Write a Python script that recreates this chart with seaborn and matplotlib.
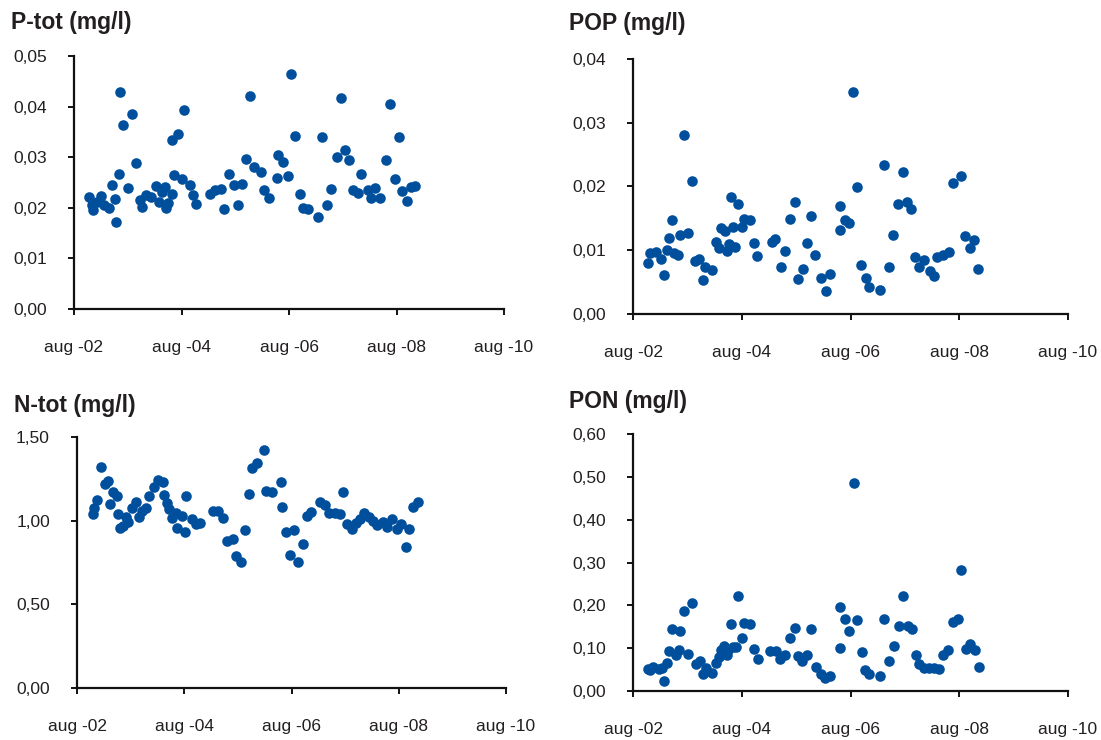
import pandas as pd
import matplotlib
matplotlib.use('Agg')
import matplotlib.pyplot as plt
import seaborn as sns

# ================= data (sample time as decimal year, value in mg/l) =================
ptot_year = [2002.86, 2002.91, 2002.94, 2003.01, 2003.09, 2003.14, 2003.24, 2003.29, 2003.34, 2003.37,
             2003.41, 2003.44, 2003.50, 2003.58, 2003.66, 2003.73, 2003.81, 2003.85, 2003.92, 2004.01,
             2004.10, 2004.16, 2004.21, 2004.27, 2004.29, 2004.33, 2004.40, 2004.41, 2004.45, 2004.51,
             2004.59, 2004.62, 2004.73, 2004.79, 2004.85, 2005.11, 2005.21, 2005.31, 2005.37, 2005.47,
             2005.55, 2005.63, 2005.71, 2005.78, 2005.85, 2005.93, 2006.06, 2006.12, 2006.20, 2006.36,
             2006.38, 2006.47, 2006.56, 2006.62, 2006.70, 2006.78, 2006.85, 2006.94, 2007.12, 2007.20,
             2007.28, 2007.37, 2007.47, 2007.55, 2007.62, 2007.70, 2007.77, 2007.86, 2007.93, 2008.05,
             2008.11, 2008.19, 2008.28, 2008.38, 2008.46, 2008.55, 2008.62, 2008.69, 2008.77, 2008.85,
             2008.93]
ptot_val = [0.0221, 0.0206, 0.0195, 0.0212, 0.0223, 0.0205, 0.0199, 0.0246, 0.0217, 0.0171,
            0.0267, 0.0428, 0.0364, 0.0240, 0.0385, 0.0289, 0.0216, 0.0202, 0.0225, 0.0222,
            0.0243, 0.0212, 0.0232, 0.0241, 0.0199, 0.0210, 0.0228, 0.0335, 0.0265, 0.0346,
            0.0256, 0.0394, 0.0246, 0.0225, 0.0208, 0.0228, 0.0235, 0.0238, 0.0198, 0.0266,
            0.0245, 0.0206, 0.0247, 0.0296, 0.0421, 0.0280, 0.0270, 0.0235, 0.0219, 0.0258,
            0.0305, 0.0291, 0.0263, 0.0464, 0.0342, 0.0228, 0.0199, 0.0197, 0.0181, 0.0340,
            0.0206, 0.0237, 0.0300, 0.0418, 0.0314, 0.0294, 0.0235, 0.0230, 0.0267, 0.0235,
            0.0219, 0.0240, 0.0220, 0.0294, 0.0405, 0.0257, 0.0339, 0.0233, 0.0214, 0.0241,
            0.0243]

pop_year = [2002.86, 2002.89, 2003.01, 2003.09, 2003.15, 2003.20, 2003.24, 2003.29, 2003.33, 2003.41,
            2003.45, 2003.52, 2003.60, 2003.67, 2003.72, 2003.80, 2003.86, 2003.91, 2004.04, 2004.10,
            2004.17, 2004.20, 2004.27, 2004.30, 2004.34, 2004.41, 2004.38, 2004.45, 2004.51, 2004.58,
            2004.62, 2004.73, 2004.80, 2004.86, 2005.13, 2005.19, 2005.30, 2005.38, 2005.46, 2005.55,
            2005.62, 2005.70, 2005.78, 2005.85, 2005.93, 2006.04, 2006.13, 2006.21, 2006.38, 2006.39,
            2006.47, 2006.55, 2006.62, 2006.70, 2006.78, 2006.86, 2006.92, 2007.13, 2007.20, 2007.28,
            2007.37, 2007.46, 2007.54, 2007.62, 2007.70, 2007.77, 2007.85, 2007.94, 2008.04, 2008.12,
            2008.18, 2008.29, 2008.39, 2008.47, 2008.62, 2008.69, 2008.77, 2008.86, 2008.93]
pop_val = [0.0080, 0.0095, 0.0097, 0.0087, 0.0061, 0.0101, 0.0119, 0.0148, 0.0096, 0.0092,
           0.0124, 0.0281, 0.0127, 0.0208, 0.0083, 0.0087, 0.0054, 0.0074, 0.0069, 0.0113,
           0.0104, 0.0135, 0.0130, 0.0099, 0.0110, 0.0137, 0.0184, 0.0105, 0.0172, 0.0137,
           0.0149, 0.0147, 0.0112, 0.0091, 0.0113, 0.0117, 0.0073, 0.0099, 0.0149, 0.0176,
           0.0055, 0.0070, 0.0112, 0.0154, 0.0093, 0.0057, 0.0036, 0.0063, 0.0132, 0.0170,
           0.0148, 0.0142, 0.0348, 0.0199, 0.0077, 0.0056, 0.0043, 0.0037, 0.0234, 0.0074,
           0.0124, 0.0172, 0.0223, 0.0176, 0.0165, 0.0090, 0.0074, 0.0084, 0.0067, 0.0059,
           0.0090, 0.0093, 0.0098, 0.0206, 0.0216, 0.0123, 0.0104, 0.0116, 0.0071]

ntot_year = [2002.87, 2002.90, 2002.95, 2003.02, 2003.10, 2003.16, 2003.20, 2003.25, 2003.32, 2003.35,
             2003.38, 2003.44, 2003.49, 2003.53, 2003.60, 2003.68, 2003.73, 2003.80, 2003.87, 2003.92,
             2004.02, 2004.09, 2004.19, 2004.20, 2004.26, 2004.30, 2004.36, 2004.42, 2004.45, 2004.53,
             2004.60, 2004.62, 2004.73, 2004.80, 2004.87, 2005.12, 2005.21, 2005.30, 2005.38, 2005.48,
             2005.55, 2005.63, 2005.71, 2005.78, 2005.85, 2005.93, 2006.06, 2006.11, 2006.21, 2006.38,
             2006.40, 2006.47, 2006.63, 2006.55, 2006.71, 2006.79, 2006.86, 2006.94, 2007.11, 2007.20,
             2007.28, 2007.39, 2007.48, 2007.54, 2007.61, 2007.70, 2007.78, 2007.86, 2007.93, 2008.03,
             2008.10, 2008.18, 2008.28, 2008.37, 2008.46, 2008.54, 2008.63, 2008.71, 2008.78, 2008.85,
             2008.94]
ntot_val = [1.039, 1.074, 1.124, 1.320, 1.220, 1.240, 1.100, 1.174, 1.148, 1.041,
            0.955, 0.969, 1.025, 0.995, 1.074, 1.114, 1.025, 1.061, 1.074, 1.148,
            1.204, 1.244, 1.230, 1.154, 1.108, 1.068, 1.019, 1.049, 0.959, 1.029,
            0.935, 1.150, 1.013, 0.981, 0.989, 1.061, 1.059, 1.019, 0.881, 0.889,
            0.789, 0.755, 0.945, 1.160, 1.318, 1.348, 1.420, 1.180, 1.170, 1.230,
            1.080, 0.931, 0.945, 0.795, 0.755, 0.859, 1.031, 1.055, 1.114, 1.094,
            1.049, 1.049, 1.039, 1.170, 0.979, 0.951, 0.985, 1.011, 1.045, 1.025,
            1.001, 0.975, 0.991, 0.961, 1.013, 0.951, 0.981, 0.845, 0.949, 1.080,
            1.114]

pon_year = [2002.86, 2002.90, 2002.95, 2003.06, 2003.15, 2003.12, 2003.21, 2003.24, 2003.29, 2003.38,
            2003.42, 2003.45, 2003.51, 2003.60, 2003.67, 2003.73, 2003.81, 2003.86, 2003.93, 2004.04,
            2004.10, 2004.16, 2004.20, 2004.25, 2004.30, 2004.33, 2004.38, 2004.42, 2004.47, 2004.52,
            2004.59, 2004.63, 2004.74, 2004.80, 2004.87, 2005.10, 2005.20, 2005.29, 2005.38, 2005.47,
            2005.55, 2005.61, 2005.69, 2005.78, 2005.86, 2005.94, 2006.04, 2006.12, 2006.21, 2006.38,
            2006.39, 2006.48, 2006.55, 2006.64, 2006.70, 2006.79, 2006.85, 2006.93, 2007.13, 2007.20,
            2007.28, 2007.38, 2007.47, 2007.55, 2007.63, 2007.71, 2007.79, 2007.85, 2007.94, 2008.03,
            2008.12, 2008.20, 2008.28, 2008.38, 2008.47, 2008.56, 2008.62, 2008.70, 2008.78, 2008.87,
            2008.94]
pon_val = [0.052, 0.050, 0.056, 0.051, 0.024, 0.054, 0.065, 0.094, 0.146, 0.085,
           0.095, 0.140, 0.188, 0.086, 0.205, 0.063, 0.071, 0.040, 0.054, 0.042,
           0.065, 0.079, 0.096, 0.106, 0.085, 0.096, 0.157, 0.103, 0.104, 0.222,
           0.124, 0.159, 0.157, 0.098, 0.075, 0.094, 0.094, 0.075, 0.085, 0.125,
           0.147, 0.081, 0.069, 0.085, 0.145, 0.056, 0.040, 0.030, 0.034, 0.100,
           0.197, 0.169, 0.141, 0.486, 0.166, 0.092, 0.050, 0.040, 0.034, 0.169,
           0.071, 0.106, 0.151, 0.221, 0.151, 0.145, 0.085, 0.063, 0.054, 0.054,
           0.054, 0.051, 0.085, 0.096, 0.162, 0.169, 0.283, 0.098, 0.110, 0.095,
           0.055]

titles = ['P-tot (mg/l)', 'POP (mg/l)', 'N-tot (mg/l)', 'PON (mg/l)']
xtick_dates = ['2002-08-01', '2004-08-01', '2006-08-01', '2008-08-01', '2010-08-01']
xtick_labels = ['aug -02', 'aug -04', 'aug -06', 'aug -08', 'aug -10']
ytick_ptot = [0.00, 0.01, 0.02, 0.03, 0.04, 0.05]
ytick_pop = [0.00, 0.01, 0.02, 0.03, 0.04]
ytick_ntot = [0.00, 0.50, 1.00, 1.50]
ytick_pon = [0.00, 0.10, 0.20, 0.30, 0.40, 0.50, 0.60]

DOT = '#004f9c'
TXT = '#231f20'


def to_dates(years):
    out = []
    for y in years:
        yr = int(y)
        start = pd.Timestamp(yr, 1, 1)
        out.append(start + (y - yr) * (pd.Timestamp(yr + 1, 1, 1) - start))
    return out


sns.set_style('ticks')
plt.rcParams['font.family'] = ['Liberation Sans', 'DejaVu Sans']

fig = plt.figure(figsize=(11.01, 7.40), dpi=100)

panels = [
    (ptot_year, ptot_val, ytick_ptot, [0.0672, 0.5824, 0.3906, 0.3419], (11, 29)),
    (pop_year, pop_val, ytick_pop, [0.5750, 0.5757, 0.3950, 0.3446], (569, 30)),
    (ntot_year, ntot_val, ytick_ntot, [0.0700, 0.0703, 0.3896, 0.3390], (14, 412)),
    (pon_year, pon_val, ytick_pon, [0.5750, 0.0662, 0.3950, 0.3470], (569, 408)),
]

for (yrs, vals, yticks, rect, tpos), title in zip(panels, titles):
    ax = fig.add_axes(rect)
    df = pd.DataFrame({'date': to_dates(yrs), 'value': vals})
    sns.scatterplot(data=df, x='date', y='value', ax=ax, color=DOT, s=58,
                    linewidth=0, legend=False, clip_on=False, zorder=3)
    xt = pd.to_datetime(xtick_dates)
    ax.set_xlim(xt[0], xt[-1])
    ax.set_xticks(xt)
    ax.set_xticklabels(xtick_labels)
    ax.set_ylim(yticks[0], yticks[-1])
    ax.set_yticks(yticks)
    ax.set_yticklabels([f'{v:.2f}'.replace('.', ',') for v in yticks])
    ax.set_xlabel('')
    ax.set_ylabel('')
    sns.despine(ax=ax)
    for side in ['left', 'bottom']:
        ax.spines[side].set_linewidth(1.6)
        ax.spines[side].set_color('#111111')
    ax.tick_params(axis='both', direction='out', length=4.5, width=1.4, color='#111111',
                   labelsize=12.5, labelcolor=TXT)
    ax.tick_params(axis='x', pad=18)
    ax.tick_params(axis='y', pad=15)
    fig.text(tpos[0] / 1101, 1 - tpos[1] / 740, title, fontsize=16.5, fontweight='bold',
             color=TXT, ha='left', va='baseline')

fig.savefig('out.png', dpi=100)
